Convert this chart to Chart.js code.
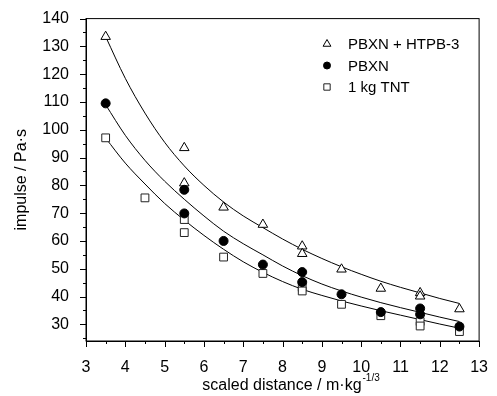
<!DOCTYPE html>
<html>
<head>
<meta charset="utf-8">
<script src="https://cdn.jsdelivr.net/npm/chart.js"></script>
<style>
  html, body { margin:0; padding:0; background:#fff; }
  #wrap { width:497px; height:396px; }
</style>
</head>
<body>
<div id="wrap"><canvas id="grafico" width="497" height="396"></canvas></div>
<script>
// measured points
const triX = [3.5, 5.5, 5.5, 6.5, 7.5, 8.5, 8.5, 9.5, 10.5, 11.5, 11.5, 12.5];
const triY = [133.5, 93.5, 80.8, 72.1, 65.9, 58.1, 55.4, 49.8, 42.9, 41.3, 40.1, 35.5];
const pbxnX = [3.5, 5.5, 5.5, 6.5, 7.5, 8.5, 8.5, 9.5, 10.5, 11.5, 11.5, 12.5];
const pbxnY = [109.5, 78.4, 69.9, 60.0, 51.5, 48.8, 45.2, 40.8, 34.4, 35.7, 33.6, 29.2];
const tntX = [3.5, 4.5, 5.5, 5.5, 6.5, 7.5, 8.5, 8.5, 9.5, 10.5, 11.5, 11.5, 12.5];
const tntY = [97.1, 75.5, 67.7, 63.0, 54.2, 48.3, 43.3, 42.0, 37.2, 33.1, 31.0, 29.4, 27.4];

// fitted curves
const fitX = [3.5, 4, 4.5, 5, 5.5, 6, 6.5, 7, 7.5, 8, 8.5, 9, 9.5, 10, 10.5, 11, 11.5, 12, 12.5];
const fitTri = [133.5, 118.5, 106, 95.5, 87, 80, 74, 69, 64.8, 60.7, 57, 53.7, 50.7, 48, 45.5, 43.3, 41.3, 39.3, 37.5];
const fitPbxn = [109, 98, 89, 81.5, 75, 69, 63.5, 59, 55, 51, 47.5, 44.5, 42, 39.8, 37.8, 36, 34.3, 32.6, 31];
const fitTnt = [97, 88, 80.5, 73.5, 67.5, 62, 57, 52.5, 48.7, 45.4, 42.6, 40.4, 38.4, 36.6, 34.9, 33.3, 31.7, 30.1, 28.6];

const legendNames = ["PBXN + HTPB-3", "PBXN", "1 kg TNT"];
const yTicks = [30, 40, 50, 60, 70, 80, 90, 100, 110, 120, 130, 140];

const FONT = "'Liberation Sans', Arial, sans-serif";
const pts = (xs, ys) => xs.map((x, i) => ({ x: x, y: ys[i] }));

function fitSet(ys){
    return {
        data: pts(fitX, ys),
        showLine: true,
        borderColor: '#000',
        borderWidth: 1,
        pointRadius: 0,
        cubicInterpolationMode: 'monotone',
        fill: false,
        order: 2
    };
}

// ticks, frame, legend and x title with superscript
const extras = {
    id: 'extras',
    afterDraw(chart){
        const c = chart.ctx, a = chart.chartArea;
        const xs = chart.scales.x, ys = chart.scales.y;
        c.save();
        c.strokeStyle = '#000';
        c.lineWidth = 1;
        c.strokeRect(a.left, a.top, a.right - a.left, a.bottom - a.top);
        c.beginPath();
        for(let v = 25; v <= 140; v += 5){
            const p = Math.round(ys.getPixelForValue(v)) + 0.5;
            const len = v % 10 === 0 ? 6 : 3;
            c.moveTo(a.left - len, p); c.lineTo(a.left, p);
        }
        for(let v = 3; v <= 13; v += 0.5){
            const p = Math.round(xs.getPixelForValue(v)) + 0.5;
            const len = v % 1 === 0 ? 6 : 3;
            c.moveTo(p, a.bottom); c.lineTo(p, a.bottom + len);
        }
        c.stroke();

        // legend
        const sets = [0, 1, 2].map(i => chart.data.datasets[i]);
        c.font = '15px ' + FONT;
        c.textBaseline = 'middle';
        sets.forEach((ds, i) => {
            const y = 44 + i * 21.5;
            c.lineWidth = 1;
            c.strokeStyle = ds.borderColor;
            c.fillStyle = ds.backgroundColor;
            Chart.helpers.drawPoint(c, { pointStyle: ds.pointStyle, radius: ds.pointRadius - 1, borderWidth: 1 }, 327, y);
            c.fillStyle = '#000';
            c.fillText(legendNames[i], 348, y + 1);
        });

        // x title
        const main = 'scaled distance / m\u00b7kg', sup = '-1/3';
        c.font = '16px ' + FONT;
        const w1 = c.measureText(main).width;
        c.font = '10px ' + FONT;
        const w2 = c.measureText(sup).width;
        const x0 = (a.left + a.right) / 2 - (w1 + w2) / 2 + 8;
        c.textAlign = 'left';
        c.textBaseline = 'alphabetic';
        c.fillStyle = '#000';
        c.font = '16px ' + FONT;
        c.fillText(main, x0, 390);
        c.font = '10px ' + FONT;
        c.fillText(sup, x0 + w1 + 1, 381);
        c.restore();
    }
};

const ctx = document.getElementById("grafico").getContext("2d");
const grafico = new Chart(ctx, {
    type: 'scatter',
    data: {
        datasets: [
            {
                label: legendNames[0],
                data: pts(triX, triY),
                pointStyle: 'triangle',
                pointRadius: 5.5,
                borderColor: '#000',
                backgroundColor: '#fff',
                borderWidth: 1,
                order: 1
            },
            {
                label: legendNames[1],
                data: pts(pbxnX, pbxnY),
                pointStyle: 'circle',
                pointRadius: 4.5,
                borderColor: '#000',
                backgroundColor: '#000',
                borderWidth: 1,
                order: 0
            },
            {
                label: legendNames[2],
                data: pts(tntX, tntY),
                pointStyle: 'rect',
                pointRadius: 5.5,
                borderColor: '#222',
                backgroundColor: '#fff',
                borderWidth: 1,
                order: 1
            },
            fitSet(fitTri),
            fitSet(fitPbxn),
            fitSet(fitTnt)
        ]
    },
    options: {
        responsive: false,
        animation: false,
        layout: { padding: { top: 17, right: 13, left: 0, bottom: 0 } },
        plugins: { legend: { display: false }, tooltip: { enabled: false } },
        scales: {
            x: {
                type: 'linear',
                min: 3, max: 13,
                grid: { display: false },
                border: { display: true, color: '#000', width: 1 },
                ticks: { stepSize: 1, color: '#000', padding: 9, font: { family: FONT, size: 16 } },
                afterFit(scale){ scale.height = 55; }
            },
            y: {
                type: 'linear',
                min: 24, max: 140,
                grid: { display: false },
                border: { display: true, color: '#000', width: 1 },
                afterBuildTicks(scale){ scale.ticks = yTicks.map(v => ({ value: v })); },
                ticks: { color: '#000', padding: 9, font: { family: FONT, size: 16 } },
                title: { display: true, text: 'impulse / Pa\u00b7s', color: '#000', padding: { top: 12, bottom: 0 }, font: { family: FONT, size: 16 } },
                afterFit(scale){ scale.width = 86; }
            }
        }
    },
    plugins: [extras]
});
</script>
</body>
</html>
